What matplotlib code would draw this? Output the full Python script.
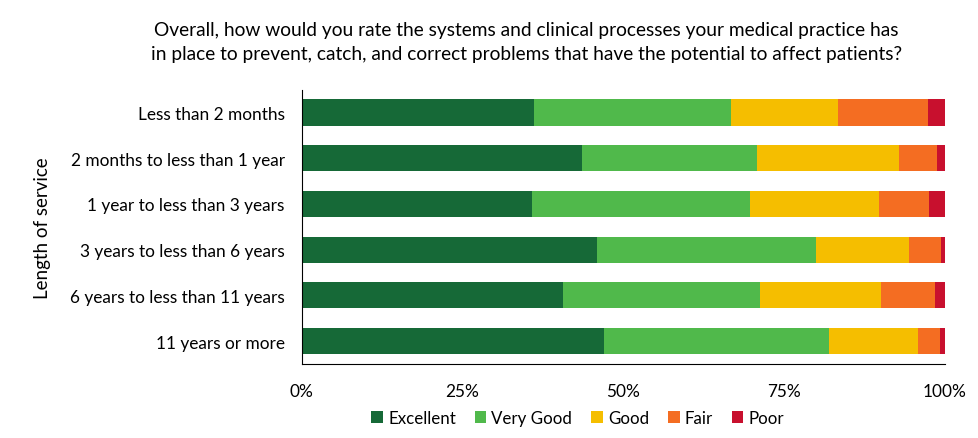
import numpy as np
import matplotlib
matplotlib.use("Agg")
import matplotlib.pyplot as plt

plt.rcParams["font.family"] = ["Lato", "DejaVu Sans"]

# Dati (percentuali)
categories = [
    "Less than 2 months",
    "2 months to less than 1 year",
    "1 year to less than 3 years",
    "3 years to less than 6 years",
    "6 years to less than 11 years",
    "11 years or more",
]
excellent = [36.2, 43.6, 35.8, 45.9, 40.6, 47.0]
very_good = [30.5, 27.2, 33.9, 34.1, 30.7, 35.0]
good = [16.7, 22.1, 20.1, 14.4, 18.8, 13.8]
fair = [13.9, 5.9, 7.7, 5.0, 8.3, 3.4]
poor = [2.7, 1.2, 2.5, 0.6, 1.6, 0.8]

series = [
    ("Excellent", excellent, "#166937"),
    ("Very Good", very_good, "#50B94B"),
    ("Good", good, "#F5BE00"),
    ("Fair", fair, "#F46D22"),
    ("Poor", poor, "#C8102E"),
]

fig = plt.figure(figsize=(9.79, 4.39), dpi=100)
ax = fig.add_axes([0.308, 0.1686, 0.6573, 0.625])

y = np.arange(len(categories))
left = np.zeros(len(categories))
for name, vals, col in series:
    ax.barh(y, vals, left=left, height=0.57, color=col, label=name)
    left += np.array(vals)

ax.set_ylim(len(categories) - 0.5, -0.5)
ax.set_xlim(0, 100)
ax.set_yticks(y)
ax.set_yticklabels(categories, fontsize=12.4)
ax.set_xticks([0, 25, 50, 75, 100])
ax.set_xticklabels(["0%", "25%", "50%", "75%", "100%"], fontsize=12.4)
ax.tick_params(axis="both", length=0)
ax.tick_params(axis="y", pad=12)
ax.tick_params(axis="x", pad=14)
ax.spines["top"].set_visible(False)
ax.spines["right"].set_visible(False)
ax.spines["left"].set_color("black")
ax.spines["bottom"].set_color("black")
ax.set_ylabel("Length of service", fontsize=13.5)
ax.yaxis.set_label_coords(-0.389, 0.5)

fig.text(0.538, 0.904,
         "Overall, how would you rate the systems and clinical processes your medical practice has\n"
         "in place to prevent, catch, and correct problems that have the potential to affect patients?",
         ha="center", va="center", fontsize=13.8, linespacing=1.5)

fig.legend(loc="center", bbox_to_anchor=(0.59, 0.046), ncol=5, frameon=False,
           fontsize=12.2, handlelength=0.7, handleheight=0.7, handletextpad=0.3,
           columnspacing=1.1)

plt.savefig("out.png", dpi=100)
plt.close()
